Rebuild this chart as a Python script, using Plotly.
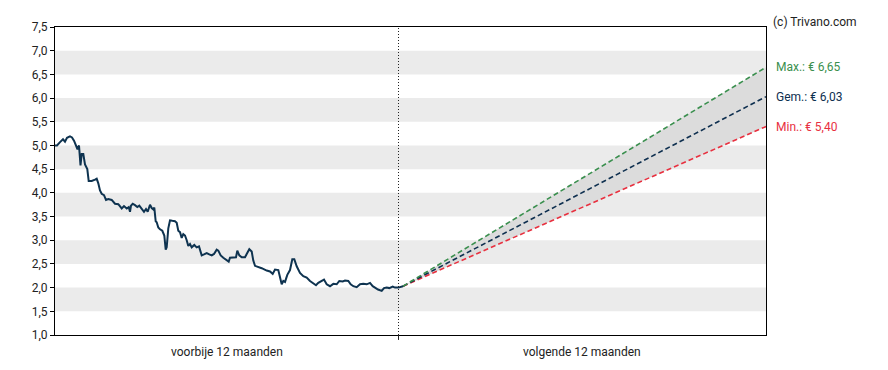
import plotly.graph_objects as go

# time index (days from start of past period) and closing prices
days = [0, 2, 5, 8, 10, 12, 15, 17, 19, 21, 22.5, 24, 25, 25.5, 26.7, 28.3, 30, 32.3, 33.7, 36.7, 40, 41.7,
        43.3, 45, 46.7, 49, 51, 53.3, 56.7, 58.3, 60, 63.3, 65, 66.7, 69, 71.7, 73.7, 75, 76, 77.7, 80, 82.3,
        84.3, 86.7, 89, 91, 92.7, 95, 96.7, 98.3, 99.3, 100.7, 101.7, 103.3, 105, 107.3, 109.3, 110.7, 111.7,
        113.3, 115, 117.3, 120, 121.7, 123.3, 125, 126.7, 128.3, 130, 131.7, 133.3, 135, 136.7, 139.3, 141.7,
        144, 146.7, 149, 151.7, 154.3, 156.7, 159, 161.7, 163.3, 165.7, 168.3, 171.7, 173.7, 175, 178.3, 181,
        182.3, 184.3, 186.7, 190, 191.7, 194.3, 196.7, 198.3, 200, 203.3, 206.7, 211.7, 215, 217.7, 220, 223.3,
        225, 226.7, 228.3, 230, 232.3, 235, 237.3, 239.3, 241.7, 245, 248.3, 251.7, 255, 258.3, 261, 263.3,
        266.7, 269, 271.7, 275, 278.3, 281.7, 284.3, 287.7, 290, 293.3, 295.7, 298.3, 301.7, 305, 308.3, 311.7,
        315, 317.7, 320, 323, 326.7, 329, 331.7, 334.3, 337.7, 340, 343.3, 346.7, 348]
prices = [5.00, 5.00, 5.07, 5.13, 5.08, 5.16, 5.19, 5.17, 5.10, 4.98, 4.92, 5.00, 4.80, 4.58, 4.82, 4.82,
          4.60, 4.50, 4.25, 4.25, 4.28, 4.30, 4.20, 4.05, 3.98, 3.95, 3.85, 3.87, 3.85, 3.80, 3.77, 3.76,
          3.70, 3.67, 3.72, 3.67, 3.70, 3.60, 3.73, 3.77, 3.74, 3.70, 3.73, 3.66, 3.60, 3.66, 3.60, 3.75,
          3.68, 3.65, 3.69, 3.40, 3.38, 3.27, 3.23, 3.20, 3.10, 2.80, 2.85, 3.25, 3.42, 3.41, 3.40, 3.37,
          3.20, 3.17, 3.05, 3.13, 3.10, 3.00, 2.88, 2.92, 2.85, 2.90, 2.85, 2.87, 2.68, 2.70, 2.73, 2.70,
          2.68, 2.71, 2.80, 2.78, 2.68, 2.63, 2.59, 2.55, 2.63, 2.64, 2.64, 2.78, 2.68, 2.64, 2.64, 2.71,
          2.81, 2.76, 2.57, 2.46, 2.44, 2.41, 2.36, 2.34, 2.29, 2.38, 2.37, 2.20, 2.07, 2.14, 2.12, 2.27,
          2.37, 2.60, 2.60, 2.45, 2.31, 2.24, 2.21, 2.14, 2.10, 2.05, 2.10, 2.14, 2.17, 2.07, 2.03, 2.08,
          2.07, 2.14, 2.13, 2.15, 2.14, 2.07, 2.03, 2.01, 2.07, 2.08, 2.07, 2.10, 2.03, 2.00, 1.96, 1.93,
          1.99, 2.00, 1.99, 2.02, 2.00, 2.00, 2.03, 2.03]

divider_day = 343.5
end_day = 711
forecast_labels = ["Max.", "Gem.", "Min."]
forecast_targets = [6.65, 6.03, 5.40]
forecast_colors = ["#3a8f4e", "#0e2f4f", "#e8303f"]

stripe_bands = [(1.5, 2.0), (2.5, 3.0), (3.5, 4.0), (4.5, 5.0), (5.5, 6.0), (6.5, 7.0)]
y_ticks = [1.0, 1.5, 2.0, 2.5, 3.0, 3.5, 4.0, 4.5, 5.0, 5.5, 6.0, 6.5, 7.0, 7.5]
period_labels = ["voorbije 12 maanden", "volgende 12 maanden"]

start_day = days[-1]
start_price = prices[-1]

M_L, M_R, M_T, M_B = 47, 130, 13, 43
PLOT_H = 370 - M_T - M_B

fig = go.Figure()

# shaded range between min and max
fig.add_trace(go.Scatter(
    x=[start_day, end_day, end_day, start_day],
    y=[start_price, forecast_targets[0], forecast_targets[2], start_price],
    fill="toself", fillcolor="#dcdcdc", line=dict(width=0), mode="lines",
    hoverinfo="skip", showlegend=False))

# forecast lines (min first so max is drawn on top)
for lbl, tgt, col in list(zip(forecast_labels, forecast_targets, forecast_colors))[::-1]:
    fig.add_trace(go.Scatter(
        x=[start_day, end_day], y=[start_price, tgt], mode="lines",
        line=dict(color=col, width=1.6, dash="5px,3px"), showlegend=False))

# price history
fig.add_trace(go.Scatter(x=days, y=prices, mode="lines",
                         line=dict(color="#0e3350", width=2), showlegend=False))

shapes = []
for lo, hi in stripe_bands:
    shapes.append(dict(type="rect", xref="paper", yref="y", x0=0, x1=1, y0=lo, y1=hi,
                       fillcolor="#ebebeb", line=dict(width=0), layer="below"))
shapes.append(dict(type="line", xref="x", yref="paper", x0=divider_day, x1=divider_day,
                   y0=0, y1=1, line=dict(color="#222222", width=1, dash="1px,2px")))
shapes.append(dict(type="line", xref="x", yref="paper", x0=divider_day, x1=divider_day,
                   y0=0, y1=-0.016, line=dict(color="#222222", width=1)))


def euro_label(lbl, val):
    return f"{lbl}: € " + f"{val:.2f}".replace(".", ",")


annotations = []
annotations.append(dict(x=divider_day / 2, y=-0.025, xref="x", yref="paper", text=period_labels[0],
                        showarrow=False, yanchor="top", font=dict(size=12, color="#222222")))
annotations.append(dict(x=(divider_day + end_day) / 2, y=-0.025, xref="x", yref="paper",
                        text=period_labels[1], showarrow=False, yanchor="top",
                        font=dict(size=12, color="#222222")))
for lbl, tgt, col in zip(forecast_labels, forecast_targets, forecast_colors):
    annotations.append(dict(x=1, xshift=8, y=tgt, xref="paper", yref="y", xanchor="left",
                            text=euro_label(lbl, tgt),
                            showarrow=False, font=dict(size=12, color=col)))
annotations.append(dict(x=1, xshift=6, y=1 + M_T / PLOT_H, xref="paper", yref="paper",
                        xanchor="left", yanchor="top", borderpad=0,
                        text="(c) Trivano.com", showarrow=False,
                        font=dict(size=12, color="#222222")))

fig.update_layout(
    width=888, height=370,
    margin=dict(l=M_L, r=M_R, t=M_T, b=M_B),
    paper_bgcolor="white", plot_bgcolor="white",
    separators=",.",
    font=dict(family="Roboto, Arial, sans-serif", size=12, color="#222222"),
    shapes=shapes, annotations=annotations,
    xaxis=dict(range=[0, end_day], showticklabels=False, ticks="", showgrid=False,
               zeroline=False, showline=True, linecolor="#000000", linewidth=1, mirror=True),
    yaxis=dict(range=[1.0, 7.5], tickvals=y_ticks, tickformat=".1f", ticks="outside",
               ticklen=4, tickcolor="#000000", showgrid=False, zeroline=False,
               showline=True, linecolor="#000000", linewidth=1, mirror=True,
               tickfont=dict(size=12, color="#222222")),
)

fig.write_html("out.html")
